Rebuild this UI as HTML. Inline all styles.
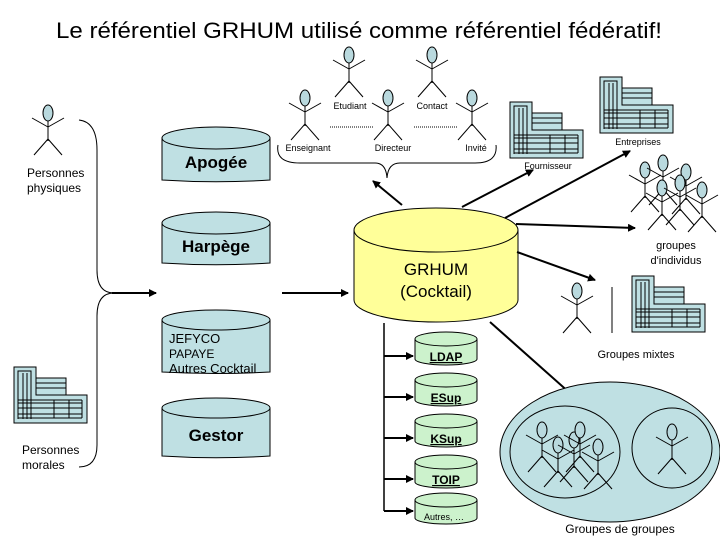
<!DOCTYPE html>
<html><head><meta charset="utf-8"><style>
html,body{margin:0;padding:0;background:#fff}
svg{display:block}
text{font-family:"Liberation Sans",sans-serif;fill:#000}
</style></head><body>
<svg width="720" height="540" viewBox="0 0 720 540" xmlns="http://www.w3.org/2000/svg">
<defs>
<g id="fig" stroke="#000" stroke-width="1" fill="none">
<ellipse cx="0" cy="0" rx="5" ry="8" fill="#b9d9de"/>
<line x1="0" y1="8" x2="0" y2="28"/>
<line x1="0" y1="14" x2="-16" y2="5"/><line x1="0" y1="14" x2="16" y2="5"/>
<line x1="0" y1="26" x2="-14" y2="42"/><line x1="0" y1="26" x2="14" y2="42"/>
</g>
<g id="bld" stroke="#000" stroke-width="1" fill="none">
<polygon points="0,0 22,0 22,28 73,28 73,56 0,56" fill="#bfe0e3"/>
<rect x="22" y="11" width="30" height="17" fill="#bfe0e3"/>
<line x1="22" y1="16" x2="52" y2="16"/><line x1="22" y1="21" x2="52" y2="21"/>
<polyline points="4,52 4,4 17,4 17,52"/>
<line x1="9" y1="6" x2="9" y2="52"/><line x1="13" y1="6" x2="13" y2="52"/>
<line x1="4" y1="36" x2="68" y2="36"/><line x1="4" y1="41" x2="68" y2="41"/><line x1="4" y1="47" x2="68" y2="47"/><line x1="4" y1="51" x2="68" y2="51"/>
<line x1="68" y1="33" x2="68" y2="51"/><line x1="40" y1="33" x2="40" y2="51"/><line x1="55" y1="33" x2="55" y2="51"/>
<line x1="4" y1="33" x2="68" y2="33"/>
</g>
<marker id="ah" markerWidth="8" markerHeight="8" refX="7" refY="4" orient="auto" markerUnits="userSpaceOnUse"><path d="M0,0 L8,4 L0,8z" fill="#000"/></marker>
</defs>

<text x="56" y="38" font-size="22" textLength="606" lengthAdjust="spacingAndGlyphs">Le référentiel GRHUM utilisé comme référentiel fédératif!</text>

<!-- top figures -->
<use href="#fig" x="349" y="55"/><use href="#fig" x="432" y="55"/>
<use href="#fig" x="305" y="98"/><use href="#fig" x="388" y="98"/><use href="#fig" x="472" y="98"/>
<text x="350" y="109" font-size="9" text-anchor="middle">Etudiant</text>
<text x="432" y="109" font-size="9" text-anchor="middle">Contact</text>
<line x1="330" y1="127" x2="373" y2="127" stroke="#000" stroke-dasharray="1,1"/>
<line x1="414" y1="127" x2="457" y2="127" stroke="#000" stroke-dasharray="1,1"/>
<text x="308" y="151" font-size="9" text-anchor="middle">Enseignant</text>
<text x="393" y="151" font-size="9" text-anchor="middle">Directeur</text>
<text x="476" y="151" font-size="9" text-anchor="middle">Invité</text>
<path d="M278,145 Q275,163 300,163 L375,163 Q386,163 387,178 Q388,163 400,163 L475,163 Q498,163 496,145" fill="none" stroke="#000"/>

<!-- left -->
<use href="#fig" x="48" y="113"/>
<text x="27" y="177" font-size="12">Personnes</text>
<text x="27" y="192" font-size="12">physiques</text>
<use href="#bld" x="14" y="367"/>
<text x="22" y="454" font-size="12">Personnes</text>
<text x="22" y="469" font-size="12">morales</text>
<path d="M79,120 Q97,122 97,150 L97,270 Q97,293 114,293 Q97,293 97,316 L97,445 Q97,467 79,467" fill="none" stroke="#000"/>
<line x1="112" y1="293" x2="156" y2="293" stroke="#000" stroke-width="2" marker-end="url(#ah)"/>
<line x1="282" y1="293" x2="348" y2="293" stroke="#000" stroke-width="2" marker-end="url(#ah)"/>

<!-- blue cylinders -->
<g stroke="#000" fill="#bfe0e3">
<path d="M162,138 L162,180 A108,12 0 0 0 270,180 L270,138"/><ellipse cx="216" cy="138" rx="54" ry="11"/>
<path d="M162,223 L162,263 A108,12 0 0 0 270,263 L270,223"/><ellipse cx="216" cy="223" rx="54" ry="11"/>
<path d="M162,320 L162,372 A108,10 0 0 0 270,372 L270,320"/><ellipse cx="216" cy="320" rx="54" ry="10"/>
<path d="M162,408 L162,456 A108,12 0 0 0 270,456 L270,408"/><ellipse cx="216" cy="408" rx="54" ry="10"/>
</g>
<text x="216" y="168" font-size="17" font-weight="bold" text-anchor="middle">Apogée</text>
<text x="216" y="252" font-size="17" font-weight="bold" text-anchor="middle">Harpège</text>
<text x="169" y="343" font-size="13">JEFYCO</text>
<text x="169" y="358" font-size="12">PAPAYE</text>
<text x="169" y="373" font-size="13">Autres Cocktail</text>
<text x="216" y="441" font-size="17" font-weight="bold" text-anchor="middle">Gestor</text>

<!-- GRHUM -->
<path d="M354,230 L354,300 A82,22 0 0 0 518,300 L518,230" fill="#ffff99" stroke="#000"/>
<ellipse cx="436" cy="230" rx="82" ry="22" fill="#ffff99" stroke="#000"/>
<text x="436" y="275" font-size="17" text-anchor="middle">GRHUM</text>
<text x="436" y="297" font-size="17" text-anchor="middle">(Cocktail)</text>

<!-- green cylinders -->
<g stroke="#000" fill="#ccf2cc">
<path d="M415,339 L415,359 A31,6 0 0 0 477,359 L477,339"/><ellipse cx="446" cy="339" rx="31" ry="7"/>
<path d="M415,380 L415,400 A31,6 0 0 0 477,400 L477,380"/><ellipse cx="446" cy="380" rx="31" ry="7"/>
<path d="M415,421 L415,441 A31,6 0 0 0 477,441 L477,421"/><ellipse cx="446" cy="421" rx="31" ry="7"/>
<path d="M415,462 L415,482 A31,6 0 0 0 477,482 L477,462"/><ellipse cx="446" cy="462" rx="31" ry="7"/>
<path d="M415,500 L415,518 A31,6 0 0 0 477,518 L477,500"/><ellipse cx="446" cy="500" rx="31" ry="7"/>
</g>
<g font-size="12" font-weight="bold" text-anchor="middle" text-decoration="underline">
<text x="446" y="361">LDAP</text><text x="446" y="402">ESup</text><text x="446" y="443">KSup</text><text x="446" y="484">TOIP</text>
</g>
<text x="444" y="520" font-size="9" text-anchor="middle">Autres, …</text>
<g stroke="#000" stroke-width="2">
<line x1="384" y1="323" x2="384" y2="511" stroke-width="1.5"/>
<line x1="384" y1="356" x2="413" y2="356" marker-end="url(#ah)"/>
<line x1="384" y1="397" x2="413" y2="397" marker-end="url(#ah)"/>
<line x1="384" y1="438" x2="413" y2="438" marker-end="url(#ah)"/>
<line x1="384" y1="479" x2="413" y2="479" marker-end="url(#ah)"/>
<line x1="384" y1="511" x2="413" y2="511" marker-end="url(#ah)"/>
<line x1="402" y1="205" x2="373" y2="181" marker-end="url(#ah)"/>
<line x1="462" y1="207" x2="533" y2="170" marker-end="url(#ah)"/>
<line x1="505" y1="218" x2="630" y2="151" marker-end="url(#ah)"/>
<line x1="516" y1="224" x2="635" y2="228" marker-end="url(#ah)"/>
<line x1="517" y1="252" x2="595" y2="280" marker-end="url(#ah)"/>
<line x1="490" y1="322" x2="580" y2="402" marker-end="url(#ah)"/>
</g>

<!-- buildings right -->
<use href="#bld" x="510" y="102"/>
<text x="548" y="169" font-size="9" text-anchor="middle">Fournisseur</text>
<use href="#bld" x="600" y="77"/>
<text x="638" y="145" font-size="9" text-anchor="middle">Entreprises</text>

<!-- groupes d'individus -->
<use href="#fig" x="645" y="170"/><use href="#fig" x="663" y="163"/><use href="#fig" x="686" y="172"/>
<use href="#fig" x="662" y="188"/><use href="#fig" x="680" y="183"/><use href="#fig" x="702" y="190"/>
<text x="676" y="249" font-size="11" text-anchor="middle">groupes</text>
<text x="676" y="264" font-size="11" text-anchor="middle">d'individus</text>

<!-- groupes mixtes -->
<use href="#fig" x="577" y="291"/>
<line x1="612" y1="287" x2="612" y2="333" stroke="#000"/>
<use href="#bld" x="632" y="276"/>
<text x="636" y="358" font-size="11" text-anchor="middle">Groupes mixtes</text>

<!-- groupes de groupes -->
<ellipse cx="610" cy="452" rx="110" ry="70" fill="#bfe0e3" stroke="#000"/>
<ellipse cx="565" cy="452" rx="55" ry="46" fill="none" stroke="#000"/>
<ellipse cx="672" cy="448" rx="40" ry="40" fill="none" stroke="#000"/>
<use href="#fig" x="542" y="430"/><use href="#fig" x="558" y="445"/><use href="#fig" x="574" y="440"/>
<use href="#fig" x="580" y="430"/><use href="#fig" x="598" y="447"/>
<use href="#fig" x="672" y="432"/>
<text x="620" y="533" font-size="12" text-anchor="middle">Groupes de groupes</text>
</svg>
</body></html>
